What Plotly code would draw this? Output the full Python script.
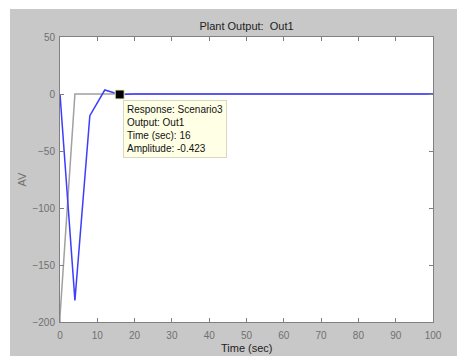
import plotly.graph_objects as go

# Data
time_blue = [0, 4, 8, 12, 16, 20, 40, 60, 80, 100]
amp_blue = [0, -181, -19, 3.5, -0.423, 0, 0, 0, 0, 0]
time_gray = [0, 0, 4, 20, 40, 60, 80, 100]
amp_gray = [-200, -195, 0, 0, 0, 0, 0, 0]
marker_t = [16]
marker_a = [-0.423]
x_ticks = [0, 10, 20, 30, 40, 50, 60, 70, 80, 90, 100]
y_ticks = [50, 0, -50, -100, -150, -200]

W, H = 457, 356
L, R, T, B = 60, 24, 37, 34
pw, ph = W - L - R, H - T - B

fig = go.Figure()
fig.add_trace(go.Scatter(x=time_gray, y=amp_gray, mode="lines",
                         line=dict(color="#a0a0a0", width=1.5), hoverinfo="skip"))
fig.add_trace(go.Scatter(x=time_blue, y=amp_blue, mode="lines",
                         line=dict(color="#3d3dff", width=1.5), hoverinfo="skip"))
fig.add_trace(go.Scatter(x=marker_t, y=marker_a, mode="markers",
                         marker=dict(symbol="square", size=9, color="black",
                                     line=dict(color="#f0f0c0", width=1)),
                         hoverinfo="skip"))

fig.add_annotation(x=marker_t[0] + 0.8, y=-5.5, xref="x", yref="y",
                   xanchor="left", yanchor="top", showarrow=False, align="left",
                   text="Response: Scenario3<br>Output: Out1<br>Time (sec): 16<br>Amplitude: -0.423",
                   font=dict(family="Liberation Sans, Arial", size=10, color="#111"),
                   bgcolor="#ffffe6", bordercolor="#d8d8c0", borderwidth=1, borderpad=3)

# x axis title as annotation
fig.add_annotation(x=0.5, y=-26 / ph, xref="paper", yref="paper",
                   xanchor="center", yanchor="middle", showarrow=False,
                   text="Time (sec)",
                   font=dict(family="Liberation Sans, Arial", size=11, color="#222"))

# white strips on left/top of the gray figure background
fig.add_shape(type="rect", xref="paper", yref="paper",
              x0=-L / pw, x1=(10 - L) / pw, y0=-B / ph, y1=1 + T / ph,
              fillcolor="white", line=dict(width=0))
fig.add_shape(type="rect", xref="paper", yref="paper",
              x0=-L / pw, x1=1 + R / pw, y0=1 + (T - 9) / ph, y1=1 + T / ph,
              fillcolor="white", line=dict(width=0))

axis_common = dict(showgrid=False, zeroline=False, showline=True, linecolor="#808080",
                   linewidth=1, mirror="ticks", ticks="inside", ticklen=4,
                   tickcolor="#808080", automargin=False,
                   tickfont=dict(family="Liberation Sans, Arial", size=10, color="#707070"))

fig.update_layout(
    width=W, height=H, margin=dict(l=L, r=R, t=T, b=B, autoexpand=False),
    paper_bgcolor="#c8c8c8", plot_bgcolor="white", showlegend=False,
    title=dict(text="Plant Output:  Out1", x=(L + pw / 2) / W, xanchor="center",
               y=1 - 26 / H, yanchor="middle",
               font=dict(family="Liberation Sans, Arial", size=11, color="#222")),
    xaxis=dict(range=[0, 100], tickvals=x_ticks, ticklabelstandoff=4, **axis_common),
    yaxis=dict(range=[-200, 50], tickvals=y_ticks, ticklabelstandoff=2,
               title=dict(text="AV", standoff=3,
               font=dict(family="Liberation Sans, Arial", size=11, color="#707070")),
               **axis_common),
)

fig.write_html("out.html")
